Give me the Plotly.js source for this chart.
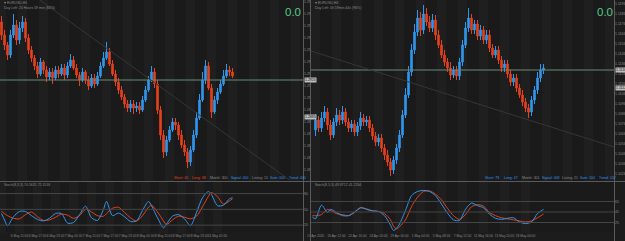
<!DOCTYPE html>
<html><head><meta charset="utf-8">
<script src="https://cdn.plot.ly/plotly-3.0.1.min.js"></script>
<style>html,body{margin:0;padding:0;background:#1c1c1c;overflow:hidden}#chart{width:625px;height:241px}</style>
</head><body><div id="chart"></div>
<script>
// ---------- LEFT PANEL (H1) ----------
const leftOpen = [1.2978,1.2965,1.2955,1.2945,1.2965,1.2975,1.2960,1.2972,1.2978,1.2962,
1.2950,1.2942,1.2934,1.2926,1.2938,1.2930,1.2923,1.2928,1.2922,1.2930,
1.2926,1.2932,1.2925,1.2934,1.2940,1.2932,1.2925,1.2920,1.2928,1.2920,
1.2914,1.2922,1.2916,1.2924,1.2934,1.2942,1.2948,1.2936,1.2926,1.2918,
1.2910,1.2903,1.2896,1.2892,1.2896,1.2892,1.2894,1.2890,1.2900,1.2910,
1.2920,1.2928,1.2916,1.2890,1.2865,1.2848,1.2860,1.2870,1.2878,1.2875,
1.2865,1.2855,1.2848,1.2838,1.2850,1.2865,1.2882,1.2900,1.2920,1.2934,
1.2912,1.2888,1.2900,1.2908,1.2916,1.2924,1.2930,1.2928];
const leftClose = [1.2965,1.2955,1.2945,1.2965,1.2975,1.2960,1.2972,1.2978,1.2962,1.2950,
1.2942,1.2934,1.2926,1.2938,1.2930,1.2923,1.2928,1.2922,1.2930,1.2926,
1.2932,1.2925,1.2934,1.2940,1.2932,1.2925,1.2920,1.2928,1.2920,1.2914,
1.2922,1.2916,1.2924,1.2934,1.2942,1.2948,1.2936,1.2926,1.2918,1.2910,
1.2903,1.2896,1.2892,1.2896,1.2892,1.2894,1.2890,1.2900,1.2910,1.2920,
1.2928,1.2916,1.2890,1.2865,1.2848,1.2860,1.2870,1.2878,1.2875,1.2865,
1.2855,1.2848,1.2838,1.2850,1.2865,1.2882,1.2900,1.2920,1.2934,1.2912,
1.2888,1.2900,1.2908,1.2916,1.2924,1.2930,1.2928,1.2924];
const leftHigh = [1.2984,1.2970,1.2958,1.2970,1.2986,1.2980,1.2978,1.2984,1.2982,1.2966,
1.2954,1.2945,1.2938,1.2942,1.2940,1.2934,1.2932,1.2932,1.2934,1.2934,
1.2936,1.2936,1.2938,1.2946,1.2944,1.2936,1.2928,1.2932,1.2930,1.2924,
1.2926,1.2926,1.2928,1.2938,1.2948,1.2958,1.2952,1.2940,1.2930,1.2922,
1.2914,1.2906,1.2900,1.2900,1.2900,1.2898,1.2898,1.2904,1.2914,1.2924,
1.2934,1.2932,1.2920,1.2894,1.2870,1.2864,1.2874,1.2882,1.2882,1.2878,
1.2870,1.2860,1.2852,1.2854,1.2870,1.2888,1.2906,1.2928,1.2940,1.2938,
1.2916,1.2904,1.2912,1.2920,1.2930,1.2936,1.2934,1.2932];
const leftLow = [1.2960,1.2950,1.2940,1.2942,1.2962,1.2955,1.2956,1.2968,1.2958,1.2946,
1.2938,1.2930,1.2922,1.2924,1.2926,1.2918,1.2920,1.2916,1.2920,1.2922,
1.2924,1.2920,1.2922,1.2932,1.2930,1.2922,1.2914,1.2918,1.2916,1.2910,
1.2912,1.2912,1.2914,1.2922,1.2932,1.2940,1.2934,1.2924,1.2914,1.2906,
1.2900,1.2892,1.2888,1.2888,1.2886,1.2888,1.2886,1.2888,1.2898,1.2908,
1.2918,1.2912,1.2886,1.2860,1.2842,1.2844,1.2858,1.2868,1.2870,1.2860,
1.2852,1.2844,1.2832,1.2834,1.2848,1.2862,1.2880,1.2898,1.2916,1.2910,
1.2882,1.2886,1.2896,1.2906,1.2914,1.2922,1.2924,1.2922];
const leftLevel = 1.2920;
const leftMarks = ["1.2920","1.2883"];
const leftOscIdx = [0,1,2,4,6,8,10,12,14,16,18,20,22,24,26,28,30,32,34,35,37,39,41,43,45,47,49,50,52,54,55,57,59,61,63,65,67,69,70,72,74,76,77];
const leftOscBlue = [42,30,19,36,46,46,38,31,28,33,42,42,24,25,40,56,34,29,50,65,38,43,36,27,28,48,65,57,34,15,22,37,40,32,19,44,72,84,78,57,58,70,72];
const leftOscRed = [46,42,38,33,32,40,45,36,29,30,35,41,39,33,38,50,45,38,37,42,52,54,44,34,28,38,54,58,45,28,21,30,37,35,32,37,55,75,82,74,60,66,70];
const leftOscLevels = [20,50,80];
const leftTimeIdx = [0,6,12,18,24,30,36,42,48,54,60,66,72];
const leftTimeText = ["6 May 2020","6 May 11:00","6 May 17:00","6 May 23:00","7 May 05:00","7 May 11:00","7 May 17:00","7 May 23:00","8 May 05:00","8 May 11:00","8 May 17:00","8 May 23:00","11 May 05:00"];
const leftStats = ["Short: 45","Long: 38","Month: 300","Signal: 000","Listing: 15","Sum: 000","Trend: 000"];
const leftTitle = ["▾ EURUSD,H1","Day Left: 20 Hours 59 min (84%)"];
const leftOscTitle = "Stoch(8,3,3) 70.5631 72.3518";

// ---------- RIGHT PANEL (H4) ----------
const rightOpen = [1.1070,1.1080,1.1072,1.1082,1.1088,1.1075,1.1065,1.1078,1.1085,1.1080,
1.1088,1.1078,1.1072,1.1076,1.1068,1.1074,1.1082,1.1078,1.1080,1.1072,
1.1064,1.1058,1.1062,1.1052,1.1045,1.1038,1.1030,1.1040,1.1052,1.1065,
1.1085,1.1105,1.1128,1.1150,1.1168,1.1182,1.1170,1.1186,1.1178,1.1172,
1.1180,1.1165,1.1155,1.1145,1.1138,1.1132,1.1125,1.1130,1.1124,1.1138,
1.1155,1.1172,1.1182,1.1170,1.1176,1.1164,1.1170,1.1160,1.1165,1.1152,
1.1145,1.1150,1.1140,1.1132,1.1136,1.1126,1.1118,1.1122,1.1112,1.1105,
1.1098,1.1092,1.1088,1.1100,1.1110,1.1122,1.1130];
const rightClose = [1.1080,1.1072,1.1082,1.1088,1.1075,1.1065,1.1078,1.1085,1.1080,1.1088,
1.1078,1.1072,1.1076,1.1068,1.1074,1.1082,1.1078,1.1080,1.1072,1.1064,
1.1058,1.1062,1.1052,1.1045,1.1038,1.1030,1.1040,1.1052,1.1065,1.1085,
1.1105,1.1128,1.1150,1.1168,1.1182,1.1170,1.1186,1.1178,1.1172,1.1180,
1.1165,1.1155,1.1145,1.1138,1.1132,1.1125,1.1130,1.1124,1.1138,1.1155,
1.1172,1.1182,1.1170,1.1176,1.1164,1.1170,1.1160,1.1165,1.1152,1.1145,
1.1150,1.1140,1.1132,1.1136,1.1126,1.1118,1.1122,1.1112,1.1105,1.1098,
1.1092,1.1088,1.1100,1.1110,1.1122,1.1130,1.1132];
const rightHigh = [1.1086,1.1084,1.1088,1.1094,1.1092,1.1080,1.1082,1.1092,1.1090,1.1094,
1.1092,1.1082,1.1080,1.1080,1.1078,1.1088,1.1086,1.1084,1.1084,1.1076,
1.1068,1.1066,1.1066,1.1056,1.1050,1.1042,1.1044,1.1056,1.1070,1.1090,
1.1112,1.1134,1.1156,1.1176,1.1190,1.1188,1.1195,1.1192,1.1184,1.1186,
1.1185,1.1170,1.1160,1.1150,1.1142,1.1138,1.1134,1.1134,1.1142,1.1160,
1.1178,1.1192,1.1186,1.1180,1.1180,1.1175,1.1174,1.1170,1.1170,1.1156,
1.1154,1.1154,1.1144,1.1140,1.1140,1.1130,1.1126,1.1126,1.1116,1.1110,
1.1102,1.1096,1.1104,1.1114,1.1128,1.1136,1.1136];
const rightLow = [1.1064,1.1068,1.1068,1.1078,1.1070,1.1060,1.1062,1.1074,1.1075,1.1076,
1.1074,1.1068,1.1068,1.1064,1.1064,1.1070,1.1074,1.1074,1.1068,1.1060,
1.1054,1.1054,1.1048,1.1040,1.1034,1.1024,1.1026,1.1036,1.1048,1.1062,
1.1082,1.1102,1.1124,1.1146,1.1164,1.1164,1.1166,1.1174,1.1168,1.1168,
1.1160,1.1152,1.1142,1.1134,1.1128,1.1120,1.1122,1.1120,1.1120,1.1134,
1.1152,1.1168,1.1166,1.1166,1.1160,1.1160,1.1156,1.1156,1.1148,1.1142,
1.1142,1.1136,1.1128,1.1128,1.1122,1.1114,1.1114,1.1108,1.1102,1.1094,
1.1088,1.1082,1.1084,1.1096,1.1106,1.1118,1.1126];
const rightLevel = 1.1130;
const rightMarks = ["1.1130","1.1112"];
const rightOscIdx = [-1,0,2,4,5,7,9,11,13,15,17,19,21,23,25,26,27,28,30,32,34,36,38,40,42,44,46,48,50,52,54,56,58,60,62,64,66,68,70,72,74,76];
const rightOscBlue = [35,32,58,44,50,44,38,38,45,53,50,47,46,38,20,10,14,22,48,76,84,86,84,76,60,43,30,29,50,62,57,53,41,33,31,33,34,26,23,26,42,50];
const rightOscRed = [38,38,40,50,48,42,40,38,44,53,51,47,46,42,30,18,13,17,30,55,73,84,85,79,68,52,38,31,40,55,59,56,44,38,34,32,30,28,26,28,34,41];
const rightOscLevels = [25,45,65];
const rightTimeIdx = [0,7,14,21,28,35,42,49,56,63,70];
const rightTimeText = ["17 Apr 2020","20 Apr 12:00","22 Apr 16:00","24 Apr 20:00","29 Apr 00:00","1 May 04:00","5 May 08:00","7 May 12:00","11 May 16:00","13 May 20:00","18 May 00:00"];
const rightStats = ["Short: 78","Long: 47","Month: 301","Signal: 008","Listing: 21","Sum: 104","Trend: 102"];
const rightTitle = ["▾ EURUSD,H4","Day Left: 0h 59min 44s (96%)"];
const rightOscTitle = "Stoch(8,3,3) 49.8712 41.2264";
const headValue = "0.0";

// ---------- LAYOUT HELPERS ----------
const W = 625, H = 241;
const px = v => v / W, py = v => 1 - v / H;
const BLUE = '#2f97ee', RED = '#e5411d', GRAY = '#8a8a8a';
const FONT = 'Liberation Sans, Arial, sans-serif';
const idx = a => a.map((_, i) => i);

function candle(o,h,l,c,xa,ya){
  return {type:'candlestick', x: idx(o), open:o, high:h, low:l, close:c, xaxis:xa, yaxis:ya,
    increasing:{line:{color:BLUE,width:1}, fillcolor:BLUE},
    decreasing:{line:{color:RED,width:1}, fillcolor:RED},
    whiskerwidth:0, hoverinfo:'skip', showlegend:false};
}
function osc(x,y,col,xa,ya){
  return {type:'scatter', mode:'lines', x:x, y:y, xaxis:xa, yaxis:ya,
    line:{color:col,width:1,shape:'spline',smoothing:0.8}, hoverinfo:'skip', showlegend:false};
}
const data = [
  candle(leftOpen,leftHigh,leftLow,leftClose,'x','y'),
  osc(leftOscIdx,leftOscRed,RED,'x2','y2'),
  osc(leftOscIdx,leftOscBlue,BLUE,'x2','y2'),
  candle(rightOpen,rightHigh,rightLow,rightClose,'x3','y3'),
  osc(rightOscIdx,rightOscRed,RED,'x4','y4'),
  osc(rightOscIdx,rightOscBlue,BLUE,'x4','y4')
];

const mainDom = [py(181), 1], oscDom = [py(232.5), py(182)];
const lDom = [0, px(303)], rDom = [px(311), px(614)];
const baseX = {showgrid:true, gridcolor:'#1f1f1f', gridwidth:9, dtick:7, zeroline:false, showline:false, ticks:'', fixedrange:true};
const tickF = {size:3.2, color:GRAY, family:FONT};
const baseY = {showgrid:false, zeroline:false, side:'right', ticks:'', tickfont:{size:3.5, color:GRAY, family:FONT}, fixedrange:true};

const shapes = [];
const line = (x0,y0,x1,y1,col,xref,yref,w) => shapes.push({type:'line',x0,y0,x1,y1,xref:xref||'paper',yref:yref||'paper',line:{color:col,width:w||1},layer:'above'});
// separators
line(0,py(181.5),1,py(181.5),'#5a5a5a');
line(px(303.5),0,px(303.5),1,'#5a5a5a');
line(px(310.5),0,px(310.5),1,'#5a5a5a');
line(px(614.5),0,px(614.5),1,'#5a5a5a');
// price levels
line(0,leftLevel,1,leftLevel,'#6d8a78','x domain','y');
line(0,rightLevel,1,rightLevel,'#6d8a78','x3 domain','y3');
// trend lines
line(12.8,1.3000,96,1.2820,'#363636','x','y');
line(-1.5,1.1149,99.5,1.1053,'#363636','x3','y3');
// oscillator levels
leftOscLevels.forEach(v => line(0,v,1,v,'#454545','x2 domain','y2'));
rightOscLevels.forEach(v => line(0,v,1,v,'#454545','x4 domain','y4'));

const ann = [];
const txt = (x,y,t,col,size,extra) => ann.push(Object.assign({xref:'paper',yref:'paper',x,y,text:t,showarrow:false,xanchor:'left',yanchor:'middle',font:{family:FONT,size:size,color:col}},extra||{}));
// titles
txt(px(2),py(3),leftTitle[0],GRAY,3.5); txt(px(2),py(8.5),leftTitle[1],GRAY,3.5);
txt(px(313),py(3),rightTitle[0],GRAY,3.5); txt(px(313),py(8.5),rightTitle[1],GRAY,3.5);
txt(px(2),py(184.5),leftOscTitle,GRAY,3.5); txt(px(313),py(184.5),rightOscTitle,GRAY,3.5);
// big value
txt(px(283),py(12),headValue,'#57c98a',11.5); txt(px(595),py(12),headValue,'#57c98a',11.5);
// stats rows
const statCols = (i,side) => {
  if (i===2||i===4) return GRAY;
  if (side==='L' && i<2) return RED;
  return BLUE;
};
const lStatX = [172,190,208,229,250,268,287], rStatX = [483,502,520,540,560,578,597];
leftStats.forEach((s,i)=>txt(px(lStatX[i]),py(178),s,statCols(i,'L'),3.5));
rightStats.forEach((s,i)=>txt(px(rStatX[i]),py(178),s,statCols(i,'R'),3.5));
// price marks on axis
const markAnn = (xp, yref, vals) => vals.forEach(v => ann.push({xref:'paper',yref:yref,x:xp,y:parseFloat(v),text:v,showarrow:false,xanchor:'left',yanchor:'middle',bgcolor:'#bdbdbd',borderpad:0,font:{family:FONT,size:3.5,color:'#111'}}));
markAnn(px(304), 'y', leftMarks);
markAnn(px(615), 'y3', rightMarks);

const layout = {
  width:W, height:H, margin:{l:0,r:0,t:0,b:0,pad:0},
  paper_bgcolor:'#1c1c1c', plot_bgcolor:'#1a1a1a', showlegend:false,
  font:{family:FONT,color:GRAY}, boxgap:0.5, boxgroupgap:0,
  xaxis: Object.assign({}, baseX, {domain:lDom, range:[-0.5,100.5], anchor:'y', showticklabels:false, rangeslider:{visible:false}}),
  yaxis: Object.assign({}, baseY, {domain:mainDom, range:[1.2819,1.3000], anchor:'x', dtick:0.0012, tick0:1.2926, tickformat:'.4f'}),
  xaxis2: Object.assign({}, baseX, {domain:lDom, range:[-0.5,100.5], anchor:'y2', tickmode:'array', tickvals:leftTimeIdx, ticktext:leftTimeText, tickfont:tickF, tickangle:0, ticklabelstandoff:0}),
  yaxis2: Object.assign({}, baseY, {domain:oscDom, range:[6,102], anchor:'x2', tickmode:'array', tickvals:leftOscLevels}),
  xaxis3: Object.assign({}, baseX, {domain:rDom, range:[-1.5,99.5], anchor:'y3', showticklabels:false, rangeslider:{visible:false}}),
  yaxis3: Object.assign({}, baseY, {domain:mainDom, range:[1.1019,1.1200], anchor:'x3', dtick:0.0010, tick0:1.1136, tickformat:'.4f'}),
  xaxis4: Object.assign({}, baseX, {domain:rDom, range:[-1.5,99.5], anchor:'y4', tickmode:'array', tickvals:rightTimeIdx, ticktext:rightTimeText, tickfont:tickF, tickangle:0, ticklabelstandoff:0}),
  yaxis4: Object.assign({}, baseY, {domain:oscDom, range:[6,102], anchor:'x4', tickmode:'array', tickvals:rightOscLevels}),
  shapes: shapes, annotations: ann
};
Plotly.newPlot('chart', data, layout, {staticPlot:true, displayModeBar:false});
</script>
</body></html>
